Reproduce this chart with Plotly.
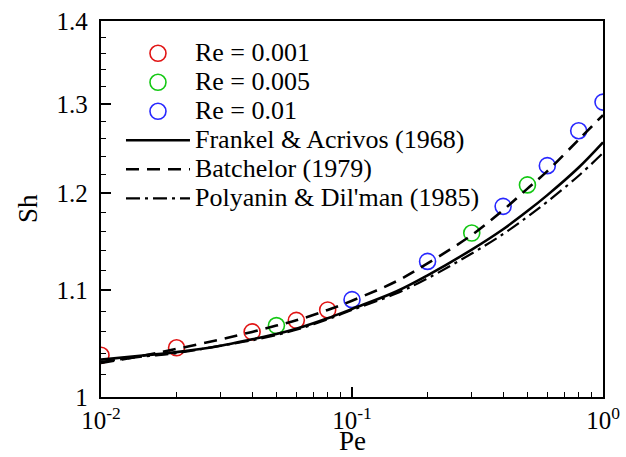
import plotly.graph_objects as go

# ---- data ----
pe_re1 = [0.01, 0.02, 0.04, 0.06, 0.08]
sh_re1 = [1.038, 1.045, 1.060, 1.071, 1.081]
pe_re2 = [0.05, 0.3, 0.5]
sh_re2 = [1.066, 1.158, 1.209]
pe_re3 = [0.1, 0.2, 0.4, 0.6, 0.8, 1.0]
sh_re3 = [1.091, 1.129, 1.186, 1.230, 1.269, 1.302]

pe_curve = [0.01, 0.015, 0.02, 0.03, 0.04, 0.05, 0.06, 0.08, 0.1, 0.15, 0.2,
            0.3, 0.4, 0.5, 0.6, 0.8, 1.0]
sh_frankel = [1.034, 1.038, 1.041, 1.047, 1.053, 1.058, 1.063, 1.073, 1.082,
              1.099, 1.115, 1.141, 1.162, 1.181, 1.198, 1.228, 1.256]
sh_batchelor = [1.031, 1.038, 1.044, 1.053, 1.060, 1.066, 1.071, 1.081, 1.090,
                1.109, 1.127, 1.156, 1.182, 1.205, 1.224, 1.259, 1.287]
sh_polyanin = [1.032, 1.037, 1.040, 1.047, 1.052, 1.057, 1.062, 1.072, 1.081,
               1.097, 1.112, 1.137, 1.157, 1.175, 1.191, 1.219, 1.244]

series_names = ["Re = 0.001", "Re = 0.005", "Re = 0.01",
                "Frankel & Acrivos (1968)", "Batchelor (1979)",
                "Polyanin & Dil'man (1985)"]
x_title = "Pe"
y_title = "Sh"

x_tickvals = [0.01, 0.1, 1]
x_ticktext = ["10<sup>-2</sup>", "10<sup>-1</sup>", "10<sup>0</sup>"]
x_minor = [0.02, 0.03, 0.04, 0.05, 0.06, 0.07, 0.08, 0.09,
           0.2, 0.3, 0.4, 0.5, 0.6, 0.7, 0.8, 0.9]
y_tickvals = [1.0, 1.1, 1.2, 1.3, 1.4]
y_ticktext = ["1", "1.1", "1.2", "1.3", "1.4"]
y_minor = [1.02, 1.04, 1.06, 1.08, 1.12, 1.14, 1.16, 1.18,
           1.22, 1.24, 1.26, 1.28, 1.32, 1.34, 1.36, 1.38]

FONT = "Liberation Serif"


def big(name):
    return '<span style="font-size:26px">' + name + '</span>'


fig = go.Figure()


def circles(x, y, name, color):
    fig.add_trace(go.Scatter(
        x=x, y=y, mode="markers", name=big(name),
        marker=dict(symbol="circle-open", size=16, color=color,
                    line=dict(width=1.6, color=color))))


circles(pe_re1, sh_re1, series_names[0], "rgb(225,20,20)")
circles(pe_re2, sh_re2, series_names[1], "rgb(20,200,20)")
circles(pe_re3, sh_re3, series_names[2], "rgb(40,40,255)")

fig.add_trace(go.Scatter(x=pe_curve, y=sh_frankel, mode="lines",
                         name=big(series_names[3]),
                         line=dict(color="black", width=2.6, shape="spline")))
fig.add_trace(go.Scatter(x=pe_curve, y=sh_batchelor, mode="lines",
                         name=big(series_names[4]),
                         line=dict(color="black", width=2.6, dash="13px,8px",
                                   shape="spline")))
fig.add_trace(go.Scatter(x=pe_curve, y=sh_polyanin, mode="lines",
                         name=big(series_names[5]),
                         line=dict(color="black", width=2.2,
                                   dash="14px,5px,3px,5px", shape="spline")))

axis_common = dict(
    showgrid=False, zeroline=False, showline=True, linecolor="black",
    linewidth=2, mirror=True, ticks="inside", tickcolor="black",
    tickwidth=1.5, ticklen=10, automargin=False,
    tickfont=dict(family=FONT, size=25, color="black"),
)

fig.update_xaxes(
    type="log", range=[-2, 0], tickmode="array", tickvals=x_tickvals,
    ticktext=x_ticktext,
    minor=dict(tickmode="array", tickvals=x_minor, ticks="inside",
               ticklen=5, tickwidth=1.2, tickcolor="black", showgrid=False),
    **axis_common)
fig.update_yaxes(
    type="log", range=[0, 0.146128], tickmode="array", tickvals=y_tickvals,
    ticktext=[t + "\u00a0" for t in y_ticktext],
    minor=dict(tickmode="array", tickvals=y_minor, ticks="inside",
               ticklen=5, tickwidth=1.2, tickcolor="black", showgrid=False),
    **axis_common)

fig.add_annotation(text=x_title, xref="paper", yref="paper", x=0.5, y=0,
                   xanchor="center", yanchor="middle", yshift=-44,
                   showarrow=False, borderpad=0,
                   font=dict(family=FONT, size=27, color="black"))
fig.add_annotation(text=y_title, xref="paper", yref="paper", x=0, y=0.5,
                   xanchor="center", yanchor="middle", xshift=-73,
                   textangle=-90, showarrow=False,
                   font=dict(family=FONT, size=27, color="black"))

fig.update_layout(
    width=626, height=457,
    margin=dict(l=101, r=23, t=21, b=60, autoexpand=False),
    plot_bgcolor="white", paper_bgcolor="white",
    font=dict(family=FONT, color="black"),
    legend=dict(x=0.0398, y=0.966, xanchor="left", yanchor="top",
                bgcolor="rgba(0,0,0,0)", borderwidth=0,
                font=dict(family=FONT, size=20, color="black"),
                itemwidth=64, tracegroupgap=0),
    showlegend=True,
)

fig.write_html("out.html")
